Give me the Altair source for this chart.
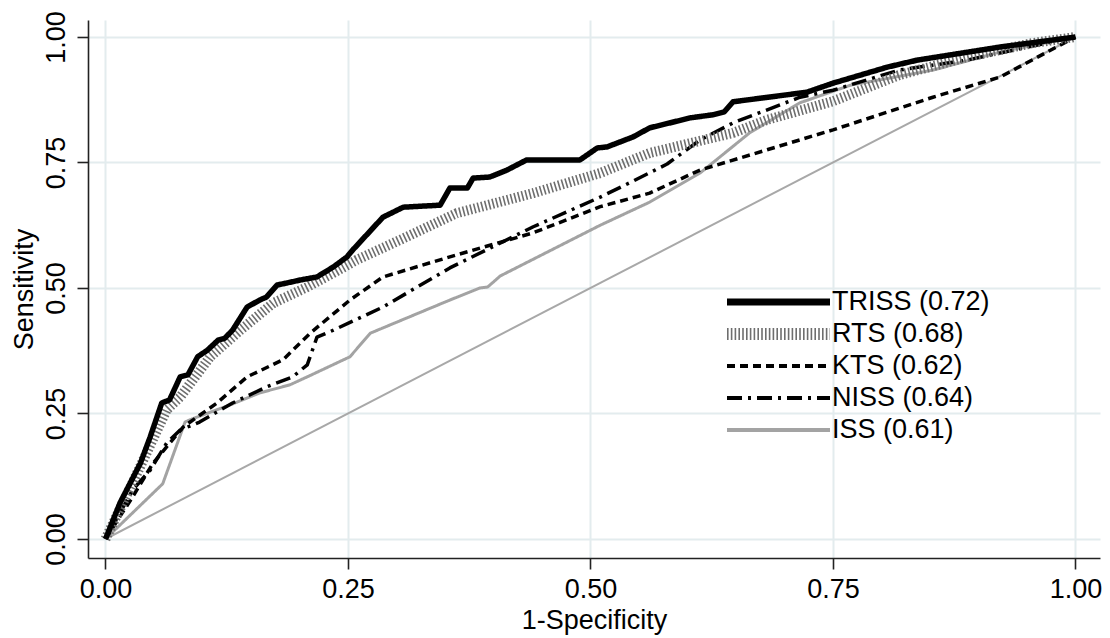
import altair as alt
import pandas as pd

series = ["TRISS (0.72)", "RTS (0.68)", "KTS (0.62)", "NISS (0.64)", "ISS (0.61)"]

triss_x = [0, .015, .036, .046, .058, .066, .077, .085, .095, .105, .116, .123, .131, .146, .159,
           .166, .177, .187, .201, .218, .235, .249, .255, .286, .307, .345, .355, .373, .379, .396,
           .414, .434, .489, .507, .517, .544, .561, .603, .626, .638, .647, .723, .750, .806, .837,
           .922, 1]
triss_y = [0, .072, .151, .203, .271, .277, .323, .327, .363, .376, .396, .400, .416, .462, .476,
           .482, .506, .510, .516, .522, .542, .562, .576, .641, .661, .665, .699, .699, .719, .721,
           .735, .755, .755, .779, .781, .801, .819, .839, .845, .851, .871, .890, .908, .940, .954,
           .980, 1]

rts_x = [0, .028, .063, .077, .108, .139, .173, .208, .235, .259, .304, .362, .441, .510, .561,
         .647, .682, .750, .818, .888, .956, 1]
rts_y = [0, .112, .257, .283, .363, .416, .470, .502, .530, .556, .596, .649, .689, .729, .769,
         .809, .835, .872, .924, .960, .988, 1]

kts_x = [0, .028, .049, .080, .115, .146, .183, .211, .252, .286, .355, .441, .510, .561, .613,
         .750, .853, .922, 1]
kts_y = [0, .084, .151, .223, .271, .323, .357, .410, .476, .522, .562, .610, .662, .689, .735,
         .815, .880, .920, 1]

niss_x = [0, .028, .046, .063, .077, .097, .131, .166, .193, .208, .218, .235, .286, .355, .441,
          .510, .544, .579, .613, .647, .716, .750, .818, .888, 1]
niss_y = [0, .098, .137, .191, .217, .233, .271, .303, .323, .347, .402, .416, .462, .540, .622,
          .681, .713, .747, .795, .829, .880, .894, .934, .954, 1]

iss_x = [0, .059, .082, .089, .131, .159, .190, .208, .252, .273, .355, .386, .394, .407, .510,
         .561, .613, .664, .716, .768, .853, .922, 1]
iss_y = [0, .110, .233, .239, .269, .291, .307, .323, .363, .410, .476, .500, .502, .524, .625,
         .671, .729, .809, .869, .904, .934, .970, 1]

diag_x = [0, 1]
diag_y = [0, 1]

ticks = [0, 0.25, 0.5, 0.75, 1]

frames = []
for name, xs, ys in zip(series,
                        [triss_x, rts_x, kts_x, niss_x, iss_x],
                        [triss_y, rts_y, kts_y, niss_y, iss_y]):
    frames.append(pd.DataFrame({"fpr": xs, "tpr": ys, "model": name, "idx": range(len(xs))}))
df = pd.concat(frames, ignore_index=True)
diag_df = pd.DataFrame({"fpr": diag_x, "tpr": diag_y})

colors = ["#000000", "#6e6e6e", "#000000", "#000000", "#a3a3a3"]
dashes = [[1, 0], [1.6, 2.2], [8, 5], [15, 6, 3, 6], [1, 0]]
line_widths = {"TRISS (0.72)": 5.5, "RTS (0.68)": 10, "KTS (0.62)": 3.5,
               "NISS (0.64)": 3.5, "ISS (0.61)": 3}

FONT = "Liberation Sans"

xscale = alt.Scale(domain=[-0.01804, 1.02526], nice=False, zero=False)
yscale = alt.Scale(domain=[-0.03785, 1.03386], nice=False, zero=False)

xaxis = alt.Axis(values=ticks, format=".2f", title="1-Specificity", labelPadding=7,
                 titlePadding=5)
yaxis = alt.Axis(values=ticks, format=".2f", title="Sensitivity", labelAngle=270,
                 labelAlign="center", labelBaseline="alphabetic", labelPadding=13,
                 titlePadding=4)

legend = alt.Legend(
    title=None, orient="none", legendX=637, legendY=266, symbolType="stroke",
    symbolSize=10609, clipHeight=32, rowPadding=0, padding=0, labelFont=FONT,
    labelFontSize=27, labelColor="#000000", labelOffset=0, labelLimit=400,
    symbolOffset=0,
    symbolStrokeWidth={"expr":
        "(datum.value == 'TRISS (0.72)' ? 7 : datum.value == 'RTS (0.68)' ? 12 : 4)"},
)

diag = alt.Chart(diag_df).mark_line(color="#a8a8a8", strokeWidth=2).encode(
    x=alt.X("fpr:Q", scale=xscale, axis=xaxis),
    y=alt.Y("tpr:Q", scale=yscale, axis=yaxis),
)

base = alt.Chart(df).encode(
    x=alt.X("fpr:Q", scale=xscale, axis=xaxis),
    y=alt.Y("tpr:Q", scale=yscale, axis=yaxis),
    color=alt.Color("model:N", scale=alt.Scale(domain=series, range=colors), legend=legend),
    strokeDash=alt.StrokeDash("model:N", scale=alt.Scale(domain=series, range=dashes),
                              legend=legend),
    order=alt.Order("idx:Q"),
)

layers = [diag]
for name in ["ISS (0.61)", "NISS (0.64)", "KTS (0.62)", "RTS (0.68)", "TRISS (0.72)"]:
    layers.append(
        base.transform_filter(alt.datum.model == name).mark_line(
            strokeWidth=line_widths[name], strokeJoin="round")
    )

chart = alt.layer(*layers).properties(
    width=1012, height=538,
    background="#ffffff",
    autosize=alt.AutoSizeParams(type="none"),
    padding={"left": 80, "top": 12, "right": 2, "bottom": 80},
).configure_view(strokeWidth=0).configure_axis(
    labelFont=FONT, labelFontSize=27, labelColor="#000000",
    titleFont=FONT, titleFontSize=27, titleFontWeight="normal", titleColor="#000000",
    domainColor="#222222", domainWidth=1.6, tickColor="#222222", tickWidth=1.6, tickSize=11,
    gridColor="#e3ecee", gridWidth=2,
)

chart.save("out.html", embed_options={"renderer": "svg", "actions": False})
